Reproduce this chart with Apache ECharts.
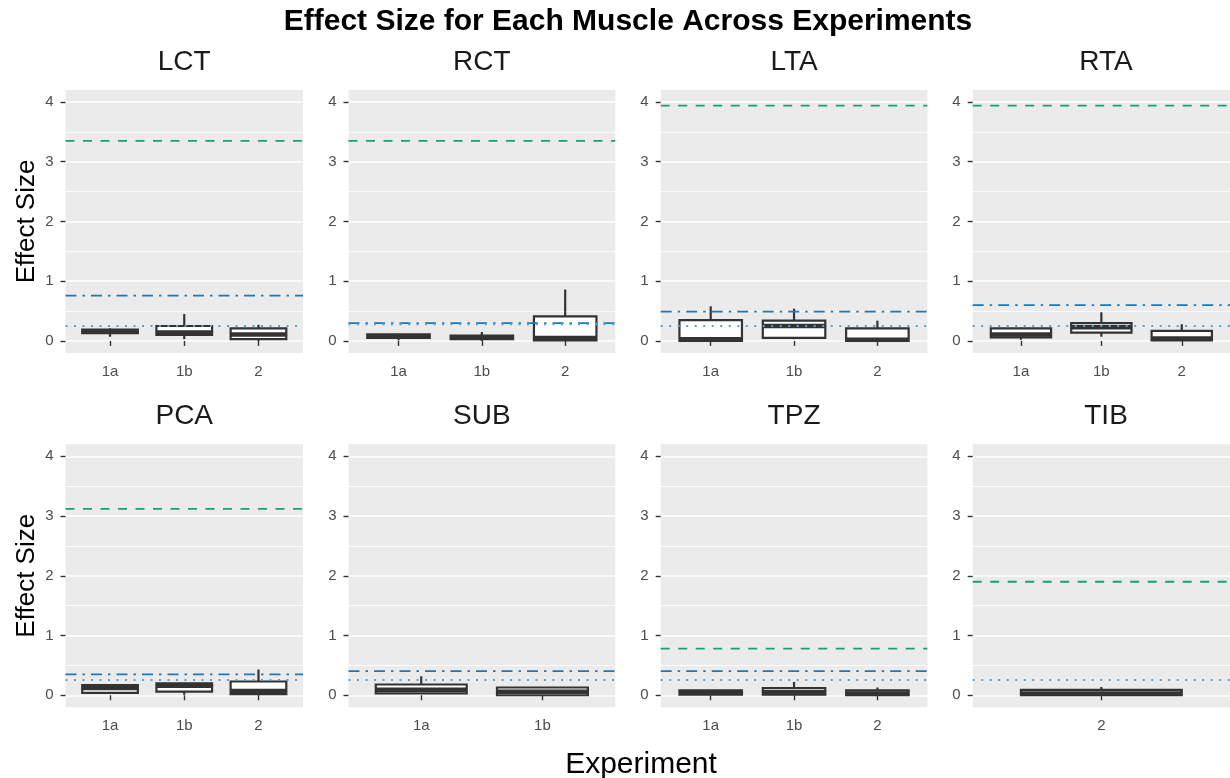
<!DOCTYPE html>
<html><head><meta charset="utf-8">
<script src="https://cdn.jsdelivr.net/npm/echarts@6/dist/echarts.min.js"></script>
<style>html,body{margin:0;padding:0;background:#fff}#c{width:1230px;height:778px}</style>
</head><body><div id="c"></div>
<script>
// ---------------- data ----------------
const muscles = ['LCT', 'RCT', 'LTA', 'RTA', 'PCA', 'SUB', 'TPZ', 'TIB'];
const experiments = [
  ['1a', '1b', '2'], ['1a', '1b', '2'], ['1a', '1b', '2'], ['1a', '1b', '2'],
  ['1a', '1b', '2'], ['1a', '1b'], ['1a', '1b', '2'], ['2']
];
// box stats per experiment: [min, Q1, median, Q3, max]
const lctBoxes = [[0.07, 0.13, 0.16, 0.19, 0.21], [0.03, 0.10, 0.14, 0.25, 0.45], [0.00, 0.03, 0.11, 0.21, 0.27]];
const rctBoxes = [[0.01, 0.05, 0.08, 0.11, 0.12], [0.00, 0.03, 0.06, 0.09, 0.15], [0.00, 0.01, 0.05, 0.41, 0.86]];
const ltaBoxes = [[0.00, 0.00, 0.03, 0.35, 0.58], [0.03, 0.05, 0.25, 0.34, 0.54], [0.00, 0.00, 0.02, 0.21, 0.34]];
const rtaBoxes = [[0.02, 0.06, 0.11, 0.21, 0.22], [0.07, 0.14, 0.23, 0.30, 0.48], [0.00, 0.01, 0.04, 0.17, 0.28]];
const pcaBoxes = [[0.03, 0.04, 0.12, 0.17, 0.18], [0.01, 0.06, 0.16, 0.20, 0.21], [0.00, 0.02, 0.07, 0.23, 0.43]];
const subBoxes = [[0.02, 0.03, 0.09, 0.18, 0.32], [0.00, 0.00, 0.06, 0.13, 0.13]];
const tpzBoxes = [[0.01, 0.01, 0.04, 0.08, 0.08], [0.01, 0.01, 0.05, 0.12, 0.22], [0.00, 0.00, 0.03, 0.08, 0.13]];
const tibBoxes = [[0.00, 0.00, 0.03, 0.09, 0.14]];
const boxStats = [lctBoxes, rctBoxes, ltaBoxes, rtaBoxes, pcaBoxes, subBoxes, tpzBoxes, tibBoxes];
// reference lines per muscle (null = not drawn)
const greenDashedLevels = [3.35, 3.35, 3.94, 3.94, 3.12, null, 0.78, 1.90];
const blueDashDotLevels = [0.76, 0.30, 0.49, 0.60, 0.35, 0.405, 0.405, null];
const dottedLevels = [0.25, 0.28, 0.25, 0.25, 0.255, 0.255, 0.255, 0.255];
const yTicks = [0, 1, 2, 3, 4];
const yMinorTicks = [0.5, 1.5, 2.5, 3.5];

// ---------------- layout ----------------
const FONT = '"Liberation Sans", Arial, Helvetica, sans-serif';
const cols = [[65.5, 237.5], [348.5, 266.7], [660.7, 266.7], [972.7, 266.7]];
const rows = [90, 444.3];
const panelH = 262.9;
const Y_MIN = -0.2, Y_MAX = 4.2;

const grids = [], xAxes = [], yAxes = [], series = [], graphics = [];

function renderBox(params, api) {
  const x = api.value(0);
  const c = v => api.coord([x, v]);
  const pMin = c(api.value(1)), pQ1 = c(api.value(2)), pMed = c(api.value(3)), pQ3 = c(api.value(4)), pMax = c(api.value(5));
  const hw = api.size([0.375, 0])[0];
  const cx = pMed[0];
  const stroke = '#333333';
  return {
    type: 'group',
    children: [
      { type: 'line', shape: { x1: cx, y1: pMax[1], x2: cx, y2: pQ3[1] }, style: { stroke, lineWidth: 2.2 } },
      { type: 'line', shape: { x1: cx, y1: pQ1[1], x2: cx, y2: pMin[1] }, style: { stroke, lineWidth: 2.2 } },
      { type: 'rect', shape: { x: cx - hw, y: pQ3[1], width: 2 * hw, height: Math.max(pQ1[1] - pQ3[1], 0.01) }, style: { fill: '#ffffff', stroke, lineWidth: 2.2 } },
      { type: 'line', shape: { x1: cx - hw, y1: pMed[1], x2: cx + hw, y2: pMed[1] }, style: { stroke, lineWidth: 4.5 } }
    ]
  };
}

muscles.forEach((m, i) => {
  const r = Math.floor(i / 4), col = i % 4;
  const [left, width] = cols[col];
  const top = rows[r];
  const cats = experiments[i];
  const n = cats.length;
  const xMin = 0.4, xMax = n + 0.6;
  const positions = cats.map((_, k) => k + 1);

  grids.push({ left, top, width, height: panelH, show: true, backgroundColor: '#EBEBEB', borderWidth: 0, containLabel: false });

  xAxes.push({
    type: 'value', gridIndex: i, min: xMin, max: xMax,
    axisLine: { show: false },
    axisTick: { show: true, length: 5, customValues: positions, lineStyle: { color: '#333333', width: 1.4 } },
    axisLabel: { show: true, customValues: positions, margin: 11, color: '#4D4D4D', fontSize: 15, fontFamily: FONT,
      formatter: v => cats[Math.round(v) - 1] },
    splitLine: { show: false }
  });

  yAxes.push({
    type: 'value', gridIndex: i, min: Y_MIN, max: Y_MAX,
    axisLine: { show: false },
    axisTick: { show: true, length: 5, customValues: yTicks, lineStyle: { color: '#333333', width: 1.4 } },
    axisLabel: { show: true, customValues: yTicks, margin: 12, color: '#4D4D4D', fontSize: 15, fontFamily: FONT },
    splitLine: { show: true, lineStyle: { color: '#FFFFFF', width: 1.5 } }
  });
  yAxes.push({
    type: 'value', gridIndex: i, min: Y_MIN, max: Y_MAX,
    axisLine: { show: false },
    axisTick: { show: false, customValues: yMinorTicks },
    axisLabel: { show: false, customValues: yMinorTicks },
    splitLine: { show: true, lineStyle: { color: '#FFFFFF', width: 0.8 } }
  });

  series.push({
    type: 'custom', xAxisIndex: i, yAxisIndex: 2 * i,
    renderItem: renderBox,
    encode: { x: 0, y: [1, 2, 3, 4, 5] },
    data: boxStats[i].map((s, k) => [positions[k]].concat(s)),
    z: 3, silent: true, clip: true
  });

  const refLine = (level, color, dash, w) => {
    if (level == null) return;
    series.push({
      type: 'line', xAxisIndex: i, yAxisIndex: 2 * i,
      data: [[xMin, level], [xMax, level]],
      symbol: 'none', silent: true, z: 5,
      lineStyle: { color, width: w, type: dash }
    });
  };
  refLine(greenDashedLevels[i], '#1B9E77', [9, 8.5], 1.8);
  refLine(blueDashDotLevels[i], '#1F78B4', [11, 6, 2.5, 6], 1.8);
  refLine(dottedLevels[i], '#4FA3DC', [2, 6.5], 2);

  graphics.push({
    type: 'text', x: left + width / 2, y: r === 0 ? 62.7 : 416,
    style: { text: m, fill: '#1A1A1A', font: '28px ' + FONT, align: 'center', verticalAlign: 'middle' }
  });
});

graphics.push({
  type: 'text', x: 628, y: 22,
  style: { text: 'Effect Size for Each Muscle Across Experiments', fill: '#000000', font: 'bold 30px ' + FONT, align: 'center', verticalAlign: 'middle' }
});
[rows[0] + panelH / 2, rows[1] + panelH / 2].forEach(cy => {
  graphics.push({
    type: 'text', x: 27, y: cy, rotation: Math.PI / 2,
    style: { text: 'Effect Size', fill: '#000000', font: '26px ' + FONT, align: 'center', verticalAlign: 'middle' }
  });
});
graphics.push({
  type: 'text', x: 641, y: 765,
  style: { text: 'Experiment', fill: '#000000', font: '30px ' + FONT, align: 'center', verticalAlign: 'middle' }
});

const chart = echarts.init(document.getElementById('c'), null, { renderer: 'canvas' });
chart.setOption({
  animation: false,
  backgroundColor: '#FFFFFF',
  grid: grids,
  xAxis: xAxes,
  yAxis: yAxes,
  series,
  graphic: graphics
});
</script>
</body></html>
